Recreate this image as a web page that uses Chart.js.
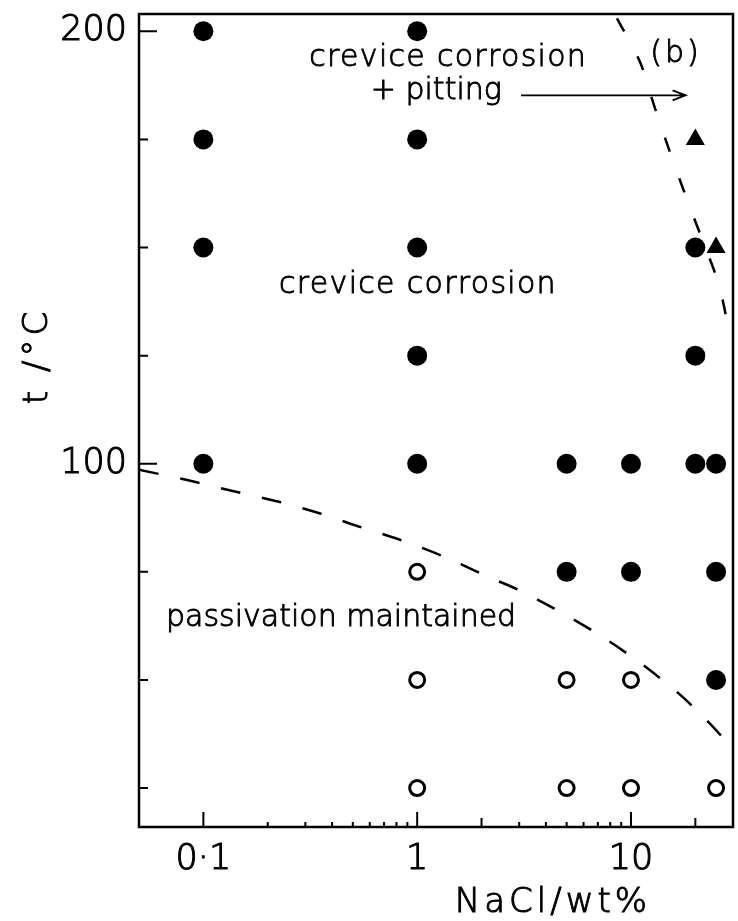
<!DOCTYPE html>
<html>
<head>
<meta charset="utf-8">
<script src="https://cdn.jsdelivr.net/npm/chart.js@4"></script>
<style>
  body { margin: 0; background: #fff; }
  #wrap { width: 738px; height: 921px; }
</style>
</head>
<body>
<div id="wrap"><canvas id="chart" width="738" height="921"></canvas></div>
<script>
// test conditions: NaCl (wt%) against temperature (°C)
const filledX = [0.1, 0.1, 0.1, 0.1, 1, 1, 1, 1, 1, 5, 5, 10, 10, 20, 20, 20, 25, 25, 25];
const filledY = [200, 175, 150, 100, 200, 175, 150, 125, 100, 100, 75, 100, 75, 150, 125, 100, 100, 75, 50];
const openX = [1, 1, 1, 5, 5, 10, 10, 25];
const openY = [75, 50, 25, 50, 25, 50, 25, 25];
const triX = [20, 25];
const triY = [175, 150];

// dashed boundaries
const upperX = [8.6, 11, 12.6, 14.5, 18, 21.1, 25.7, 28.4];
const upperY = [203, 193, 184, 175, 162, 153, 141.6, 132];
const lowerX = [0.05, 0.083, 0.134, 0.226, 0.352, 0.532, 0.832, 1.37, 2.09, 2.96, 4.38, 7.07, 11, 16.7, 23.1, 29.3];
const lowerY = [98.6, 96.3, 93.8, 91.2, 88.5, 85.5, 82.4, 78.3, 74.1, 70.9, 66.5, 60.5, 54, 46.9, 40.2, 34.6];

const xMajor = [0.1, 1, 10];
const xMajorLabels = ['0·1', '1', '10'];
const xMinor = [0.2, 0.3, 0.4, 0.5, 0.6, 0.7, 0.8, 0.9, 2, 3, 4, 5, 6, 7, 8, 9, 20];
const yTicks = [25, 50, 75, 100, 125, 150, 175, 200];
const yMajor = [100, 200];

// region labels, anchored at their left baseline
const noteText = ['crevice corrosion', '+ pitting', '(b)', 'crevice corrosion', 'passivation maintained'];
const noteX = [0.313, 0.607, 12.3, 0.226, 0.0669];
const noteY = [191.9, 184.3, 193, 139.5, 62.4];
const arrowX = [3.06, 18.0];
const arrowY = 185.2;

const pts = (xs, ys) => xs.map((x, i) => ({ x: x, y: ys[i] }));
const FONT = '"DejaVu Sans", sans-serif';

function noPad(s) {
  s.paddingTop = 0;
  s.paddingBottom = 0;
  s.paddingLeft = 0;
  s.paddingRight = 0;
}

function inkText(ctx, t, px, py) {
  ctx.fillText(t, px, py);
  ctx.strokeText(t, px, py);
}

const extras = {
  id: 'extras',
  afterDraw(chart) {
    const { ctx, chartArea: a, scales: { x, y } } = chart;
    ctx.save();
    ctx.strokeStyle = '#000';
    ctx.fillStyle = '#000';
    ctx.lineWidth = 2.5;
    ctx.strokeRect(a.left, a.top, a.right - a.left, a.bottom - a.top);

    // inward ticks
    ctx.lineWidth = 2;
    ctx.beginPath();
    yTicks.forEach((v) => {
      const py = y.getPixelForValue(v);
      const len = yMajor.includes(v) ? 18 : 9;
      ctx.moveTo(a.left, py);
      ctx.lineTo(a.left + len, py);
    });
    xMajor.forEach((v) => {
      const px = x.getPixelForValue(v);
      ctx.moveTo(px, a.bottom);
      ctx.lineTo(px, a.bottom - 15);
    });
    xMinor.forEach((v) => {
      const px = x.getPixelForValue(v);
      const len = v === 2 || v === 20 ? 9 : 5;
      ctx.moveTo(px, a.bottom);
      ctx.lineTo(px, a.bottom - len);
    });
    ctx.stroke();

    // region labels
    ctx.font = '200 30px ' + FONT;
    ctx.lineWidth = 0.9;
    ctx.textAlign = 'left';
    ctx.textBaseline = 'alphabetic';
    noteText.forEach((t, i) => {
      ctx.letterSpacing = t.startsWith('crevice') ? '1.3px' : (t === '(b)' ? '3px' : '0px');
      inkText(ctx, t, x.getPixelForValue(noteX[i]), y.getPixelForValue(noteY[i]));
    });
    ctx.letterSpacing = '0px';

    // arrow
    const ax0 = x.getPixelForValue(arrowX[0]);
    const ax1 = x.getPixelForValue(arrowX[1]);
    const ay = y.getPixelForValue(arrowY);
    ctx.lineWidth = 1.8;
    ctx.beginPath();
    ctx.moveTo(ax0, ay);
    ctx.lineTo(ax1, ay);
    ctx.moveTo(ax1 - 13, ay - 5);
    ctx.lineTo(ax1, ay);
    ctx.lineTo(ax1 - 13, ay + 5);
    ctx.stroke();

    // axis titles
    ctx.font = '200 34px ' + FONT;
    ctx.lineWidth = 1;
    ctx.textAlign = 'center';
    ctx.textBaseline = 'middle';
    ctx.letterSpacing = '4px';
    inkText(ctx, 'NaCl/wt%', 553, 903);
    ctx.translate(38, 356);
    ctx.rotate(-Math.PI / 2);
    inkText(ctx, 't /°C', 0, 0);
    ctx.restore();
  }
};

const tickFont = { family: FONT, size: 35, weight: '200' };

new Chart(document.getElementById('chart'), {
  type: 'scatter',
  data: {
    datasets: [
      {
        data: pts(upperX, upperY),
        showLine: true,
        borderColor: '#000',
        borderWidth: 2.5,
        borderDash: [15, 28],
        pointRadius: 0,
        tension: 0.3
      },
      {
        data: pts(lowerX, lowerY),
        showLine: true,
        borderColor: '#000',
        borderWidth: 2.5,
        borderDash: [20, 22],
        pointRadius: 0,
        tension: 0.3
      },
      {
        data: pts(filledX, filledY),
        pointStyle: 'circle',
        pointRadius: 10,
        backgroundColor: '#000',
        borderColor: '#000',
        borderWidth: 0
      },
      {
        data: pts(openX, openY),
        pointStyle: 'circle',
        pointRadius: 7.5,
        backgroundColor: '#fff',
        borderColor: '#000',
        borderWidth: 3
      },
      {
        data: pts(triX, triY),
        pointStyle: 'triangle',
        pointRadius: 11,
        backgroundColor: '#000',
        borderColor: '#000',
        borderWidth: 0
      }
    ]
  },
  options: {
    responsive: false,
    animation: false,
    layout: { autoPadding: false, padding: { left: 0, right: 5, top: 14, bottom: 0 } },
    plugins: { legend: { display: false }, tooltip: { enabled: false } },
    scales: {
      x: {
        type: 'logarithmic',
        min: 0.05,
        max: 30,
        afterBuildTicks: (s) => { s.ticks = xMajor.map((v) => ({ value: v })); },
        afterFit: (s) => { s.height = 94; noPad(s); },
        grid: { display: false, drawTicks: false },
        border: { display: false },
        ticks: {
          autoSkip: false,
          maxRotation: 0,
          padding: 12,
          color: '#000',
          textStrokeColor: '#000',
          textStrokeWidth: 1,
          font: tickFont,
          callback: (v) => xMajorLabels[xMajor.indexOf(v)] || ''
        }
      },
      y: {
        type: 'linear',
        min: 16,
        max: 204,
        afterBuildTicks: (s) => { s.ticks = yMajor.map((v) => ({ value: v })); },
        afterFit: (s) => { s.width = 139; noPad(s); },
        grid: { display: false, drawTicks: false },
        border: { display: false },
        ticks: {
          autoSkip: false,
          padding: 12,
          color: '#000',
          textStrokeColor: '#000',
          textStrokeWidth: 1,
          font: tickFont,
          callback: (v) => String(v)
        }
      }
    }
  },
  plugins: [extras]
});
</script>
</body>
</html>
